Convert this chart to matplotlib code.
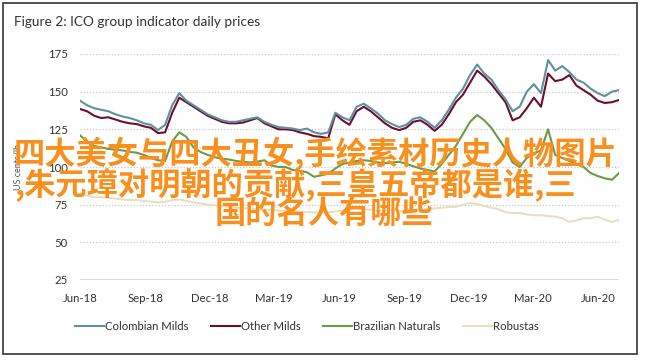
import matplotlib
matplotlib.use('Agg')
import matplotlib.pyplot as plt
import matplotlib.dates as mdates
from matplotlib.patches import Rectangle
import pandas as pd

plt.rcParams['font.family'] = ['Lato', 'DejaVu Sans']

# ICO group indicator prices (US cents/lb), every 10 days
dates = pd.date_range('2018-06-01', periods=77, freq='10D')

colombian_milds = [144, 141, 139, 138, 137, 135, 133.5, 132.5, 131, 129,
                   128, 124.5, 128, 141, 149, 144, 141, 138, 135, 133,
                   131, 130, 130, 131, 132, 133, 130, 128, 126.5, 126,
                   125.5, 124.5, 125.5, 123, 122, 123, 136, 133, 131, 140,
                   142, 139, 135.5, 131, 128.5, 126.5, 128, 132, 133, 130,
                   126, 131, 138, 146, 152, 161, 168, 162, 158, 151,
                   145, 137, 140, 150, 155, 149, 171, 164, 167, 163,
                   158, 156, 152, 149, 147, 150, 151]

other_milds = [138.5, 137, 134, 132.5, 133, 131.5, 130, 129, 128.5, 127,
               126, 122.5, 123, 136, 146, 143, 140, 137, 134, 132,
               130, 129, 129, 129.5, 131, 132.5, 129, 127, 125, 125,
               124.5, 123, 122, 120.5, 120, 119, 135, 131, 128, 137,
               140, 137, 133, 129, 126, 124.5, 126, 130, 131, 128,
               124, 128, 135, 143, 148, 156, 164, 160, 155, 149,
               143, 131, 133, 139, 146, 140, 162, 157, 158, 161,
               154, 151, 148, 144, 142.5, 143, 144.5]

brazilian_naturals = [121, 117, 114, 113, 112, 111.5, 111, 110, 109.5, 108,
                      106, 104.5, 104, 117, 123, 120, 113, 110, 108, 106.5,
                      105.5, 105, 104, 103.5, 103, 103.5, 104.5, 101, 100, 100,
                      98, 97.5, 96.5, 93.5, 94.5, 95.5, 99, 102, 103, 104,
                      104.5, 104, 103, 102.5, 103, 103.5, 102, 100.5, 99, 98,
                      97, 102, 108, 114, 122, 130, 134.5, 131, 126, 119,
                      112, 103, 100, 106, 109, 111, 125, 108, 106, 104,
                      102, 100, 96, 94, 92.5, 91.5, 96]

robustas = [82, 81, 80, 80, 79.5, 79, 78.5, 78, 78, 77.5,
            77, 76.5, 77, 78, 78.5, 77.5, 76.5, 76, 75, 74.5,
            74, 73.5, 73, 72.5, 72.5, 72, 71.5, 71.5, 71, 71,
            70.5, 70.5, 70, 70, 69.5, 70, 70.5, 71, 72, 72.5,
            72, 71.5, 71, 71, 71.5, 71, 70.5, 71, 71.5, 72,
            72.5, 73, 73.5, 73.5, 75, 76, 75.5, 74, 73, 72,
            70, 69.5, 69.5, 68.5, 68, 68, 67.5, 67, 66, 63.5,
            64.5, 66, 66, 67, 65, 63.5, 65]

series = [('Colombian Milds', colombian_milds, '#5f8fa0'),
          ('Other Milds', other_milds, '#6b0f2f'),
          ('Brazilian Naturals', brazilian_naturals, '#6d9a48'),
          ('Robustas', robustas, '#e9dfc0')]

overlay_lines = ['四大美女与四大丑女,手绘素材历史人物图片',
                 ',朱元璋对明朝的贡献,三皇五帝都是谁,三',
                 '国的名人有哪些']

fig = plt.figure(figsize=(6.46, 3.6), dpi=100)
ax = fig.add_axes([80 / 646, 1 - 280 / 360, 539 / 646, 226 / 360])

for name, vals, col in series[::-1]:
    ax.plot(dates, vals, color=col, lw=1.5, label=name)

ax.set_xlim(pd.Timestamp('2018-06-01'), pd.Timestamp('2020-06-30'))
ax.set_ylim(25, 175)
ax.set_yticks([25, 50, 75, 100, 125, 150, 175])
ax.xaxis.set_major_locator(mdates.MonthLocator(bymonth=[3, 6, 9, 12]))
ax.xaxis.set_major_formatter(mdates.DateFormatter('%b-%y'))
ax.tick_params(length=0, labelsize=8.2, colors='#333333', pad=9)

for s in ax.spines.values():
    s.set_visible(False)
ax.grid(axis='y', color='#c8c8c8', linestyle=(0, (1, 1.5)), lw=0.9)
ax.axhline(25, color='#dcdcdc', lw=1.6, zorder=0)
ax.set_ylabel('US cents/lb', fontsize=6.5, color='#555555', labelpad=18)

# legend in the original order
handles, labels = ax.get_legend_handles_labels()
fig.legend(handles[::-1], labels[::-1], loc='center', bbox_to_anchor=(0.475, 0.094),
           ncol=4, frameon=False, fontsize=8.2, handlelength=2.5,
           handletextpad=0.1, columnspacing=2.0, labelcolor='#333333')

fig.text(14 / 646, 1 - 22 / 360, 'Figure 2: ICO group indicator daily prices',
         fontsize=9.8, color='#333333', va='center', ha='left')

# frame round the whole figure
fig.patches.append(Rectangle((3 / 646, 6 / 360), 634 / 646, 351 / 360,
                             transform=fig.transFigure, fill=False,
                             edgecolor='#333333', lw=1.2))

# orange overlay text
cjk = ['Noto Sans CJK SC', 'DejaVu Sans']
fig.text(14 / 646, 1 - 153 / 360, overlay_lines[0], family=cjk, fontweight='bold',
         fontsize=22.5, color='#f7901e', va='center', ha='left', zorder=10)
fig.text(14 / 646, 1 - 184 / 360, overlay_lines[1], family=cjk, fontweight='bold',
         fontsize=22.5, color='#f7901e', va='center', ha='left', zorder=10)
fig.text(215 / 646, 1 - 214 / 360, overlay_lines[2], family=cjk, fontweight='bold',
         fontsize=22.5, color='#f7901e', va='center', ha='left', zorder=10)

fig.savefig('out.png', dpi=100)
